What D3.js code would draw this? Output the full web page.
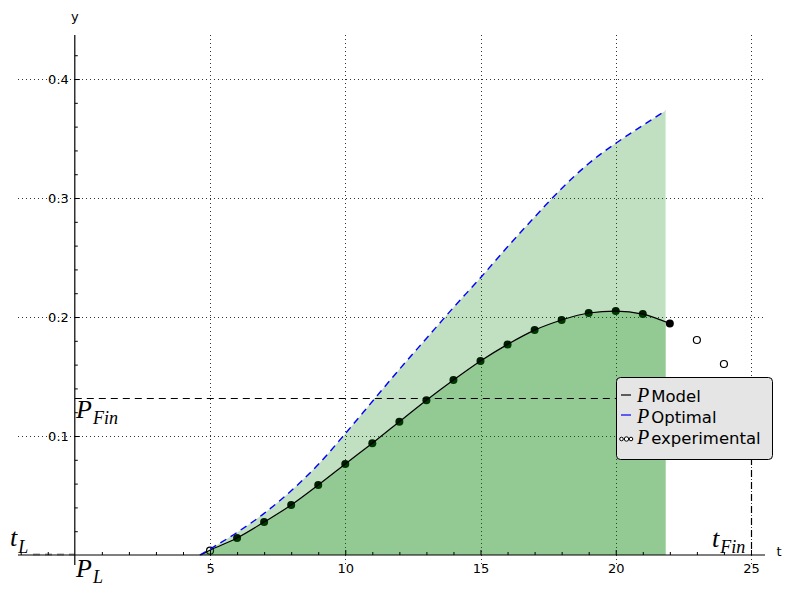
<!DOCTYPE html>
<html>
<head>
<meta charset="utf-8">
<script src="https://cdn.jsdelivr.net/npm/d3@7"></script>
<style>
  html, body { margin: 0; padding: 0; background: #fff; }
  svg { display: block; }
  .tick text { font-family: "DejaVu Sans", sans-serif; font-size: 13px; fill: #000; }
  .tick line { stroke: #000; }
</style>
</head>
<body>
<div id="chart"></div>
<script>
// ---------- data ----------
const modelT = [4.65, 5, 6, 7, 8, 9, 10, 11, 12, 13, 14, 15, 16, 17, 18, 19, 20, 21, 22];
const modelP = [0, 0.004, 0.0143, 0.0277, 0.042, 0.0588, 0.0765, 0.094, 0.112, 0.130, 0.147, 0.163, 0.177, 0.189, 0.1975, 0.2034, 0.205, 0.2025, 0.1945];
const modelDotT = [6, 7, 8, 9, 10, 11, 12, 13, 14, 15, 16, 17, 18, 19, 20, 21, 22];
const optimalT = [4.62, 5, 6, 7, 8, 9, 10, 11, 12, 13, 14, 15, 16, 17, 18, 19, 20, 21, 21.85];
const optimalP = [0, 0.005, 0.019, 0.035, 0.054, 0.076, 0.102, 0.129, 0.156, 0.182, 0.208, 0.233, 0.259, 0.284, 0.308, 0.329, 0.346, 0.361, 0.3735];
const expT = [5, 23, 24];
const expP = [0.0036, 0.1807, 0.1605];
const xMajorTicks = [5, 10, 15, 20, 25];
const yMajorTicks = [0.1, 0.2, 0.3, 0.4];
const fillEnd = 21.85;
const tFin = 25;
const pFin = 0.132;
const legendLabels = ["Model", "Optimal", "experimental"];

// ---------- setup ----------
const W = 791, H = 593;
const svg = d3.select("#chart").append("svg").attr("width", W).attr("height", H);
const x = d3.scaleLinear().domain([-2.1, 25.5]).range([18, 764.5]);
const y = d3.scaleLinear().domain([-0.0084, 0.437]).range([565, 35]);
const x0 = x(0), y0 = y(0);
const crisp = v => Math.round(v) + 0.5;

// grid
const grid = svg.append("g");
xMajorTicks.forEach(t => {
  grid.append("line").attr("x1", crisp(x(t))).attr("x2", crisp(x(t)))
    .attr("y1", 35).attr("y2", 565)
    .attr("stroke", "#333").attr("stroke-width", 1).attr("stroke-dasharray", "1,3");
});
yMajorTicks.forEach(v => {
  grid.append("line").attr("y1", crisp(y(v))).attr("y2", crisp(y(v)))
    .attr("x1", 18).attr("x2", 765)
    .attr("stroke", "#333").attr("stroke-width", 1).attr("stroke-dasharray", "1,3");
});

// model dots (under fills)
svg.append("g").selectAll("circle").data(modelDotT).join("circle")
  .attr("cx", t => x(t))
  .attr("cy", t => y(modelP[modelT.indexOf(t)]))
  .attr("r", 4).attr("fill", "#000");

// experimental open circles
svg.append("g").selectAll("circle").data(expT).join("circle")
  .attr("cx", (d) => x(d)).attr("cy", (d, i) => y(expP[i]))
  .attr("r", 3.5).attr("fill", "#fff").attr("stroke", "#000").attr("stroke-width", 1.2);

// fills
svg.append("clipPath").attr("id", "fillclip").append("rect")
  .attr("x", 0).attr("y", 0).attr("width", x(fillEnd)).attr("height", H);
const optData = optimalT.map((t, i) => [t, optimalP[i]]);
const modData = modelT.map((t, i) => [t, modelP[i]]);
const area = d3.area().x(d => x(d[0])).y0(y0).y1(d => y(d[1])).curve(d3.curveMonotoneX);
const fills = svg.append("g").attr("clip-path", "url(#fillclip)");
fills.append("path").attr("d", area(optData)).attr("fill", "green").attr("fill-opacity", 0.245);
fills.append("path").attr("d", area(modData)).attr("fill", "green").attr("fill-opacity", 0.24);

// dashed guide lines
svg.append("line").attr("x1", x0).attr("x2", x(tFin)).attr("y1", crisp(y(pFin))).attr("y2", crisp(y(pFin)))
  .attr("stroke", "#000").attr("stroke-width", 1.2).attr("stroke-dasharray", "7,5");
svg.append("line").attr("x1", crisp(x(tFin))).attr("x2", crisp(x(tFin))).attr("y1", y(pFin)).attr("y2", y0)
  .attr("stroke", "#000").attr("stroke-width", 1.2).attr("stroke-dasharray", "7,5");
svg.append("line").attr("x1", 33).attr("x2", x0).attr("y1", y0 - 0.5).attr("y2", y0 - 0.5)
  .attr("stroke", "#999").attr("stroke-width", 2).attr("stroke-dasharray", "7,5");

// lines
const line = d3.line().x(d => x(d[0])).y(d => y(d[1])).curve(d3.curveMonotoneX);
svg.append("path").attr("d", line(modData)).attr("fill", "none").attr("stroke", "#000").attr("stroke-width", 1.2);
svg.append("path").attr("d", line(optData)).attr("fill", "none").attr("stroke", "#0000ff")
  .attr("stroke-width", 1.4).attr("stroke-dasharray", "7,5");

// axes
const xMinor = d3.range(-2, 26).filter(t => t !== 0 && t % 5 !== 0);
const yMinor = d3.range(1, 22).map(i => +(i * 0.02).toFixed(2)).filter(v => Math.abs(v * 10 - Math.round(v * 10)) > 1e-6);
const gx = svg.append("g").attr("transform", `translate(0,${y0})`);
gx.call(d3.axisBottom(x).tickValues(xMajorTicks).tickSize(-5).tickPadding(9).tickFormat(d3.format("d")));
gx.select(".domain").remove();
const gx2 = svg.append("g").attr("transform", `translate(0,${y0})`);
gx2.call(d3.axisBottom(x).tickValues(xMinor).tickSize(-3).tickFormat(""));
gx2.select(".domain").remove();
const gy = svg.append("g").attr("transform", `translate(${x0},0)`);
gy.call(d3.axisLeft(y).tickValues(yMajorTicks).tickSize(-5).tickPadding(6).tickFormat(d3.format(".1f")));
gy.select(".domain").remove();
const gy2 = svg.append("g").attr("transform", `translate(${x0},0)`);
gy2.call(d3.axisLeft(y).tickValues(yMinor).tickSize(-3).tickFormat(""));
gy2.select(".domain").remove();

svg.append("line").attr("x1", 18).attr("x2", 765).attr("y1", y0).attr("y2", y0).attr("stroke", "#000").attr("stroke-width", 1.2);
svg.append("line").attr("x1", x0).attr("x2", x0).attr("y1", 35).attr("y2", 565).attr("stroke", "#000").attr("stroke-width", 1.2);

svg.append("text").attr("x", x0).attr("y", 21).attr("text-anchor", "middle")
  .attr("font-family", "DejaVu Sans, sans-serif").attr("font-size", 13).text("y");
svg.append("text").attr("x", 779).attr("y", 556).attr("text-anchor", "middle")
  .attr("font-family", "DejaVu Sans, sans-serif").attr("font-size", 13).text("t");

// math labels
function mathLabel(px, py, main, sub, subDy) {
  const t = svg.append("text").attr("x", px).attr("y", py)
    .attr("font-family", "Liberation Serif, serif").attr("font-style", "italic").attr("font-size", 26);
  t.append("tspan").text(main);
  t.append("tspan").attr("font-size", 18).attr("dy", subDy).attr("dx", 1).text(sub);
}
mathLabel(10, 546, "t", "L", 7);
mathLabel(76, 577, "P", "L", 6);
mathLabel(76, 418, "P", "Fin", 6);
mathLabel(712, 547, "t", "Fin", 6);

// legend
const lg = svg.append("g");
lg.append("rect").attr("x", 616.5).attr("y", 377.5).attr("width", 156).attr("height", 82).attr("rx", 4)
  .attr("fill", "#e5e5e5").attr("stroke", "#000").attr("stroke-width", 1);
const rows = [401.5, 422.5, 443.5];
lg.append("line").attr("x1", 621).attr("x2", 631).attr("y1", 395).attr("y2", 395).attr("stroke", "#000").attr("stroke-width", 1.2);
lg.append("line").attr("x1", 621).attr("x2", 631).attr("y1", 415).attr("y2", 415).attr("stroke", "#0000ff").attr("stroke-width", 1.2);
[621.5, 626.5, 631].forEach((cx, i) => {
  lg.append("circle").attr("cx", cx).attr("cy", 439).attr("r", i === 1 ? 2.2 : 1.8)
    .attr("fill", "#fff").attr("stroke", "#000").attr("stroke-width", 1);
});
legendLabels.forEach((lab, i) => {
  const t = lg.append("text").attr("x", 637).attr("y", rows[i]).attr("font-size", 16.5);
  t.append("tspan").attr("font-family", "Liberation Serif, serif").attr("font-style", "italic").attr("font-size", 20).text("P");
  t.append("tspan").attr("font-family", "DejaVu Sans, sans-serif").attr("dx", 2).text(lab);
});
</script>
</body>
</html>
